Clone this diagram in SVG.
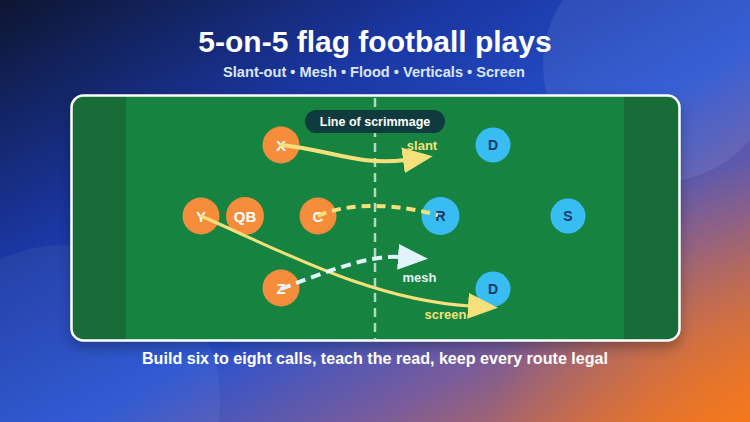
<svg xmlns="http://www.w3.org/2000/svg" width="750" height="422" viewBox="0 0 750 422">
  <defs>
    <linearGradient id="bg" x1="0" y1="0" x2="1" y2="1">
      <stop offset="0" stop-color="#0d1530"/>
      <stop offset="0.3" stop-color="#1a36a0"/>
      <stop offset="0.55" stop-color="#2652d2"/>
      <stop offset="0.75" stop-color="#7a5c9a"/>
      <stop offset="1" stop-color="#f5731c"/>
    </linearGradient>
    <radialGradient id="glow" cx="750" cy="422" r="260" gradientUnits="userSpaceOnUse">
      <stop offset="0" stop-color="#f57a1c" stop-opacity="0.7"/>
      <stop offset="1" stop-color="#f57a1c" stop-opacity="0"/>
    </radialGradient>
    <filter id="shadow" x="-10%" y="-10%" width="120%" height="130%">
      <feDropShadow dx="0" dy="6" stdDeviation="7" flood-color="#000000" flood-opacity="0.3"/>
    </filter>
    <clipPath id="fieldClip">
      <rect x="72" y="96" width="607" height="244" rx="11"/>
    </clipPath>
    <marker id="arrY" markerUnits="userSpaceOnUse" markerWidth="30" markerHeight="26" viewBox="0 0 30 26" refX="2" refY="13" orient="auto">
      <path d="M0,0 L30,13 L0,26 Z" fill="#f6e07c"/>
    </marker>
    <marker id="arrB" markerUnits="userSpaceOnUse" markerWidth="30" markerHeight="26" viewBox="0 0 30 26" refX="2" refY="13" orient="auto">
      <path d="M0,0 L30,13 L0,26 Z" fill="#e2f3fb"/>
    </marker>
    <style>
      .off { fill: #f68d3a; }
      .def { fill: #38bdf3; }
      .offt { fill: #ffffff; font-family: "Liberation Sans", Arial, sans-serif; font-weight: bold; font-size: 15px; text-anchor: middle; }
      .deft { fill: #12386b; font-family: "Liberation Sans", Arial, sans-serif; font-weight: bold; font-size: 14px; text-anchor: middle; }
      .lbl { font-family: "Liberation Sans", Arial, sans-serif; font-weight: bold; font-size: 13px; text-anchor: middle; }
      .solidY { fill: none; stroke: #f6e07c; stroke-linecap: round; }
      .dashY { fill: none; stroke: #f6e07c; stroke-width: 4; stroke-dasharray: 9 6; }
      .dashB { fill: none; stroke: #e2f3fb; stroke-width: 4; stroke-dasharray: 10 6; }
    </style>
  </defs>

  <!-- background -->
  <rect x="0" y="0" width="750" height="422" fill="url(#bg)"/>
  <rect x="0" y="0" width="750" height="422" fill="url(#glow)"/>
  <circle cx="660" cy="65" r="117" fill="#ffffff" fill-opacity="0.08"/>
  <circle cx="65" cy="400" r="155" fill="#ffffff" fill-opacity="0.05"/>

  <!-- titles -->
  <text x="375" y="52" fill="#ffffff" font-family="'Liberation Sans', Arial, sans-serif" font-weight="bold" font-size="30" text-anchor="middle">5-on-5 flag football plays</text>
  <text x="374" y="77" fill="#dce6ff" font-family="'Liberation Sans', Arial, sans-serif" font-weight="bold" font-size="14.6" text-anchor="middle">Slant-out • Mesh • Flood • Verticals • Screen</text>

  <!-- field -->
  <g id="field">
    <rect x="71" y="95" width="609" height="246" rx="12" fill="#18843f" filter="url(#shadow)"/>
    <g clip-path="url(#fieldClip)">
      <rect x="72" y="96" width="54" height="244" fill="#176c37"/>
      <rect x="624" y="96" width="55" height="244" fill="#176c37"/>
    </g>
    <rect x="71.5" y="95.5" width="608" height="245" rx="12" fill="none" stroke="#ffffff" stroke-width="2.5"/>
    <line x1="375" y1="98" x2="375" y2="339" stroke="#cfe9d6" stroke-opacity="0.85" stroke-width="2.5" stroke-dasharray="9 6"/>
  </g>

  <g id="scrimmage-label">
    <rect x="305" y="110" width="140" height="23" rx="11.5" fill="#0f3b3e"/>
    <text x="375" y="126" fill="#ffffff" font-family="'Liberation Sans', Arial, sans-serif" font-weight="bold" font-size="12.5" text-anchor="middle">Line of scrimmage</text>
  </g>

  <!-- offense -->
  <g id="node-X"><circle class="off" cx="281" cy="145" r="18.5"/><text class="offt" x="281" y="150.5">X</text></g>
  <g id="node-Y"><circle class="off" cx="201" cy="216" r="18.5"/><text class="offt" x="201" y="221.5">Y</text></g>
  <g id="node-QB"><circle class="off" cx="245" cy="216" r="19"/><text class="offt" x="245" y="221.5">QB</text></g>
  <g id="node-C"><circle class="off" cx="318" cy="216" r="18.5"/><text class="offt" x="318" y="221.5">C</text></g>
  <g id="node-Z"><circle class="off" cx="281" cy="288" r="18.5"/><text class="offt" x="281" y="293.5">Z</text></g>

  <!-- defense -->
  <g id="node-D1"><circle class="def" cx="493" cy="145" r="17.5"/><text class="deft" x="493" y="150">D</text></g>
  <g id="node-R"><circle class="def" cx="440.5" cy="216" r="19"/><text class="deft" x="440.5" y="221">R</text></g>
  <g id="node-S"><circle class="def" cx="568" cy="216" r="17.5"/><text class="deft" x="568" y="221">S</text></g>
  <g id="node-D2"><circle class="def" cx="493" cy="289" r="17.5"/><text class="deft" x="493" y="294">D</text></g>

  <!-- connectors -->
  <g id="connectors">
    <path class="solidY" stroke-width="4" d="M281,145 C330,150 360,166 405,160" marker-end="url(#arrY)"/>
    <path class="dashY" d="M318,216 C340,206 380,200 438,215"/>
    <path class="solidY" stroke-width="3" d="M201,216 C280,250 370,300 470,306" marker-end="url(#arrY)"/>
    <path class="dashB" d="M281,289 C330,270 370,255 400,257" marker-end="url(#arrB)"/>
    <text class="lbl" x="422" y="150" fill="#f6e07c">slant</text>
    <text class="lbl" x="419.5" y="282" fill="#e6f0f5">mesh</text>
    <text class="lbl" x="445.5" y="319" fill="#f6e07c">screen</text>
  </g>

  <text x="375" y="364" fill="#ffffff" font-family="'Liberation Sans', Arial, sans-serif" font-weight="bold" font-size="16.1" text-anchor="middle">Build six to eight calls, teach the read, keep every route legal</text>
</svg>
